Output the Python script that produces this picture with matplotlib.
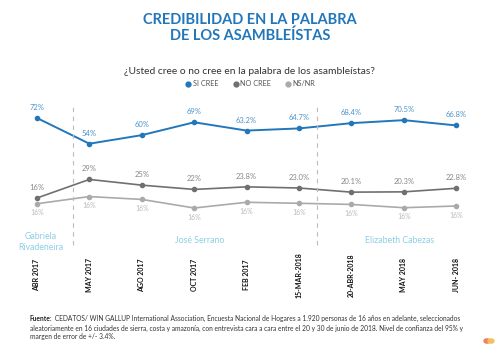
import matplotlib.pyplot as plt
from matplotlib.lines import Line2D

plt.rcParams['font.family'] = ['Lato', 'DejaVu Sans']

# data
fechas = ['ABR 2017', 'MAY 2017', 'AGO 2017', 'OCT 2017', 'FEB 2017',
          '15-MAR-2018', '20-ABR-2018', 'MAY 2018', 'JUN- 2018']
si_cree = [72, 54, 60, 69, 63.2, 64.7, 68.4, 70.5, 66.8]
no_cree = [16, 29, 25, 22, 23.8, 23.0, 20.1, 20.3, 22.8]
ns_nr = [12, 17, 15, 9, 13, 12.3, 11.5, 9.2, 10.4]
si_labels = ['72%', '54%', '60%', '69%', '63.2%', '64.7%', '68.4%', '70.5%', '66.8%']
no_labels = ['16%', '29%', '25%', '22%', '23.8%', '23.0%', '20.1%', '20.3%', '22.8%']
ns_labels = ['16%'] * 9
presidentes = ['Gabriela\nRivadeneira', 'José Serrano', 'Elizabeth Cabezas']

azul = '#2277bb'
gris = '#707070'
gris_claro = '#aaaaaa'
celeste = '#8ccfe6'

fig = plt.figure(figsize=(5, 3.53), dpi=100)
ax = fig.add_axes([0, 0.2918, 1, 0.4249])
ax.set_xlim(-0.706, 8.836)
ax.set_ylim(-20.4, 84.6)
ax.axis('off')

x = list(range(len(fechas)))
ax.plot(x, si_cree, color=azul, lw=1.4, marker='o', ms=3)
ax.plot(x, no_cree, color=gris, lw=1.2, marker='o', ms=3)
ax.plot(x, ns_nr, color=gris_claro, lw=1.2, marker='o', ms=3)

for i in x:
    ax.annotate(si_labels[i], (i, si_cree[i]), xytext=(0, 5), textcoords='offset points',
                ha='center', va='bottom', fontsize=5.5, color='#4d94cc')
    ax.annotate(no_labels[i], (i, no_cree[i]), xytext=(0, 5), textcoords='offset points',
                ha='center', va='bottom', fontsize=5.5, color='#888888')
    ax.annotate(ns_labels[i], (i, ns_nr[i]), xytext=(0, -4), textcoords='offset points',
                ha='center', va='top', fontsize=5, color='#bbbbbb')
    ax.text(i, -0.167, fechas[i], transform=ax.get_xaxis_transform(), rotation=90,
            ha='center', va='center', fontsize=5, fontweight='bold', color='#111111')

# cambios de presidencia
for xv in [0.69, 5.34]:
    ax.axvline(xv, ymin=0.033, ymax=0.967, color='#bbbbbb', lw=0.8, ls=(0, (4, 4)))

tr = ax.get_xaxis_transform()
ax.text(0.08, 0.053, presidentes[0], transform=tr, ha='center', va='center',
        fontsize=6.3, color=celeste, linespacing=1.35)
ax.text(3.11, 0.06, presidentes[1], transform=tr, ha='center', va='center',
        fontsize=6.3, color=celeste)
ax.text(6.91, 0.06, presidentes[2], transform=tr, ha='center', va='center',
        fontsize=6.3, color=celeste)

fig.text(0.5, 1 - 28 / 353, 'CREDIBILIDAD EN LA PALABRA\nDE LOS ASAMBLEÍSTAS', ha='center',
         va='center', fontsize=10.5, fontweight='bold', color=azul, linespacing=1.15)
fig.text(0.5, 1 - 72 / 353, '¿Usted cree o no cree en la palabra de los asambleístas?',
         ha='center', va='center', fontsize=7.4, color='#333333')

handles = [Line2D([], [], ls='none', marker='o', ms=3.5, color=c) for c in (azul, gris, gris_claro)]
fig.legend(handles, ['SI CREE', 'NO CREE', 'NS/NR'], loc='center', bbox_to_anchor=(0.5, 1 - 84 / 353),
           ncol=3, frameon=False, fontsize=5.2, handletextpad=0.1, columnspacing=1.9,
           handlelength=1, labelcolor='#555555')

fuente_1 = (' CEDATOS/ WIN GALLUP International Association, Encuesta Nacional de Hogares a 1.920 personas '
            'de 16 años en adelante, seleccionados')
fuente_2 = ('aleatoriamente en 16 ciudades de sierra, costa y amazonía, '
            'con entrevista cara a cara entre el 20 y 30 de junio de 2018. Nivel de confianza del 95% y\n'
            'margen de error de +/- 3.4%.')
t0 = fig.text(30 / 500, 1 - 321 / 353, 'Fuente:', ha='left', va='baseline', fontsize=4.8,
              fontweight='bold', color='#222222')
ax.annotate(fuente_1, xy=(1, 0), xycoords=t0, ha='left', va='bottom', fontsize=4.8,
            color='#333333', annotation_clip=False)
fig.text(30 / 500, 1 - 324.5 / 353, fuente_2, ha='left', va='top', fontsize=4.8,
         color='#333333', linespacing=1.25)

# logo pequeño
fig.patches.append(plt.Circle((487 / 500, 1 - 341 / 353), 0.006, color='#f08060',
                              transform=fig.transFigure))
fig.patches.append(plt.Circle((491 / 500, 1 - 341 / 353), 0.006, color='#f5c060',
                              transform=fig.transFigure))

fig.savefig('out.png', dpi=100, facecolor='white')
